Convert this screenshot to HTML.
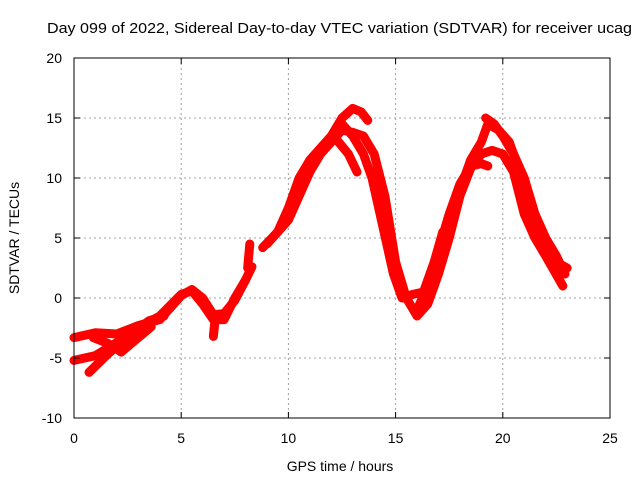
<!DOCTYPE html>
<html><head><meta charset="utf-8"><style>
body{margin:0;background:#fff;}
svg{display:block;font-family:"Liberation Sans",sans-serif;}
</style></head><body>
<svg id="chart" width="640" height="480" viewBox="0 0 640 480">
<text x="47" y="33" font-size="15" textLength="585" lengthAdjust="spacingAndGlyphs">Day 099 of 2022, Sidereal Day-to-day VTEC variation (SDTVAR) for receiver ucag</text>
<g id="grid"></g>
<g id="series"></g>
<rect x="74" y="58" width="536" height="360" fill="none" stroke="#000" stroke-width="1"/>
<g id="ticks"></g>
<text x="340" y="471" font-size="14" text-anchor="middle">GPS time / hours</text>
<text x="19" y="238" font-size="14" text-anchor="middle" transform="rotate(-90 19 238)">SDTVAR / TECUs</text>
</svg>
<script>
const xTicks=[0,5,10,15,20,25];
const yTicks=[-10,-5,0,5,10,15,20];
const track1=[[0,-3.3],[1,-2.9],[2,-3],[3,-2.3],[4,-1.8],[5,0.2],[5.5,0.7],[6,0],[6.5,-1.4],[7,-1.3],[7.5,-0.2],[8,1.5],[8.3,2.6]];
const track2=[[0,-5.2],[1,-4.8],[2,-3.7],[3,-2.5],[4,-1.5],[5,0.3],[5.5,0.6],[6,-0.5],[6.5,-1.8],[7,-1.8],[7.5,0],[8,1.5]];
const track3=[[0.7,-6.2],[1.5,-4.8],[2.5,-3.2],[3.5,-1.9],[4.2,-1.5]];
const track4=[[0.9,-3.3],[1.6,-3.8],[2.2,-4.5],[2.8,-3.6],[3.6,-2.4]];
const track5=[[6.5,-3.2],[6.6,-1.5]];
const track6=[[8.1,2.5],[8.2,4.5]];
const track7=[[8.8,4.2],[9.5,5.5],[10,7.5],[10.5,10],[11,11.5],[11.5,12.5],[12,13.5],[12.5,15],[13,15.8],[13.4,15.5],[13.7,14.8]];
const track8=[[9,4.5],[10,6.5],[10.5,8.5],[11,10.5],[11.5,12],[12,13],[12.5,14],[13,13.8],[13.5,13.5],[14,12],[14.5,8.5],[15,3],[15.5,0],[16,-1.5],[16.5,-0.5],[17,2],[17.5,5],[18,8.5],[18.5,10.8],[19,12],[19.5,12.3],[20,12],[20.5,10.5],[21,7],[21.5,5],[22,3.5],[22.8,1]];
const track9=[[12.5,14.5],[13,13.5],[13.5,12],[13.9,10],[14.4,6],[14.9,2],[15.3,0],[15.8,0.3],[16.3,0.5],[16.8,3],[17.2,5.5]];
const track10=[[12.2,13.3],[12.8,12],[13.2,10.5]];
const track11=[[16,-1],[16.5,1],[17,4],[17.5,7],[18,9.5],[18.5,11],[19,11.2],[19.3,11]];
const track12=[[17,3],[17.5,6],[18,9],[18.5,11.5],[19,13],[19.3,14.5],[19.8,14],[20.3,13],[20.7,11],[21,9],[21.5,6],[22,4],[22.5,3],[23,2.5]];
const track13=[[19.2,15],[19.6,14.5],[20,13.5],[20.5,12],[21,10],[21.5,7],[22,5],[22.5,3.5],[22.9,2]];
const tracks=[track1,track2,track3,track4,track5,track6,track7,track8,track9,track10,track11,track12,track13];
const NS="http://www.w3.org/2000/svg";
function sx(v){return 74+v*536/25;}
function sy(v){return 418-(v+10)*12;}
const grid=document.getElementById('grid'),ticks=document.getElementById('ticks'),ser=document.getElementById('series');
xTicks.forEach(t=>{
  if(t>0&&t<25){const l=document.createElementNS(NS,'line');
  
  
  l.setAttribute('x1',sx(t));l.setAttribute('x2',sx(t));l.setAttribute('y1',58);l.setAttribute('y2',418);
  l.setAttribute('stroke','#a0a0a0');l.setAttribute('stroke-dasharray','2,3');grid.appendChild(l);}
  const tx=document.createElementNS(NS,'text');
  
  
  tx.setAttribute('x',sx(t));tx.setAttribute('y',443);tx.setAttribute('font-size','14');tx.setAttribute('text-anchor','middle');tx.textContent=t;ticks.appendChild(tx);
  [[418,412],[58,64]].forEach(p=>{const m=document.createElementNS(NS,'line');
  
  
  m.setAttribute('x1',sx(t));m.setAttribute('x2',sx(t));m.setAttribute('y1',p[0]);m.setAttribute('y2',p[1]);m.setAttribute('stroke','#000');ticks.appendChild(m);});
});
yTicks.forEach(t=>{
  if(t>-10&&t<20){const l=document.createElementNS(NS,'line');
  
  
  l.setAttribute('x1',74);l.setAttribute('x2',610);l.setAttribute('y1',sy(t));l.setAttribute('y2',sy(t));
  l.setAttribute('stroke','#a0a0a0');l.setAttribute('stroke-dasharray','2,3');grid.appendChild(l);}
  const tx=document.createElementNS(NS,'text');
  
  
  tx.setAttribute('x',62);tx.setAttribute('y',sy(t)+5);tx.setAttribute('font-size','14');tx.setAttribute('text-anchor','end');tx.textContent=t;ticks.appendChild(tx);
  [[74,80],[610,604]].forEach(p=>{const m=document.createElementNS(NS,'line');
  
  
  m.setAttribute('x1',p[0]);m.setAttribute('x2',p[1]);m.setAttribute('y1',sy(t));m.setAttribute('y2',sy(t));m.setAttribute('stroke','#000');ticks.appendChild(m);});
});
tracks.forEach(tr=>{
  const p=document.createElementNS(NS,'polyline');
  
  
  p.setAttribute('points',tr.map(d=>sx(d[0])+','+sy(d[1])).join(' '));
  p.setAttribute('fill','none');p.setAttribute('stroke','#ff0000');p.setAttribute('stroke-width','9');p.setAttribute('stroke-linejoin','round');p.setAttribute('stroke-linecap','round');
  ser.appendChild(p);
});
</script>
</body></html>
